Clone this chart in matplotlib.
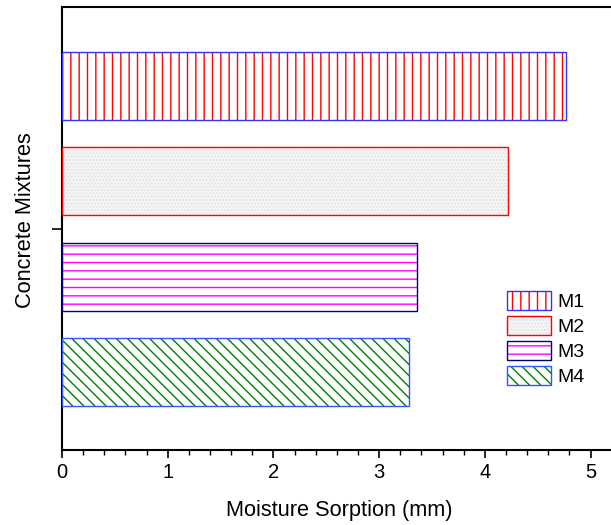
import numpy as np
import matplotlib
matplotlib.use("Agg")
import matplotlib.pyplot as plt
from matplotlib.ticker import MultipleLocator, FixedLocator

plt.rcParams['font.family'] = ['Liberation Sans', 'DejaVu Sans']
plt.rcParams['hatch.linewidth'] = 1.0

# data
mixtures = ['M1', 'M2', 'M3', 'M4']
sorption = [4.77, 4.215, 3.355, 3.28]
ypos = [4, 3, 2, 1]

# style per mixture: face, hatch, hatch colour, edge colour
faces = ['white', '#f6f6f6', 'white', 'white']
hatches = ['||', '.....', '--', '\\\\\\']
hatch_cols = ['#ff0000', '#e2e2e2', '#ff00ff', '#008000']
edges = ['#3333ff', '#ff0000', '#000080', '#3355ff']

fig = plt.figure(figsize=(6.11, 5.25), dpi=100)
ax = fig.add_axes([62/611, 75/525, 555/611, 443/525])

handles = []
for i in range(len(mixtures)):
    hb = ax.barh(ypos[i], sorption[i], height=0.713, color=faces[i],
                 hatch=hatches[i], edgecolor=hatch_cols[i], linewidth=0, zorder=2)
    eb = ax.barh(ypos[i], sorption[i], height=0.713, fill=False,
                 edgecolor=edges[i], linewidth=1.0, zorder=3)
    handles.append((hb[0], eb[0]))

ax.set_xlim(0, 5.25)
ax.set_ylim(0.182, 4.829)

ax.xaxis.set_major_locator(MultipleLocator(1))
ax.xaxis.set_minor_locator(MultipleLocator(0.2))
ax.yaxis.set_major_locator(FixedLocator([2.5]))
ax.set_yticklabels([])
ax.tick_params(axis='x', which='major', direction='out', length=6, width=1.2, labelsize=14.5)
ax.tick_params(axis='x', which='minor', direction='out', length=3.5, width=1.0)
ax.tick_params(axis='y', which='major', direction='out', length=7, width=1.2)

for s in ['left', 'bottom', 'top']:
    ax.spines[s].set_linewidth(1.5)
ax.spines['right'].set_visible(False)

ax.set_xlabel('Moisture Sorption (mm)', fontsize=15.7, labelpad=13)
ax.set_ylabel('Concrete Mixtures', fontsize=15.7)
ax.yaxis.set_label_coords(-0.047, 0.52)

leg = ax.legend(handles, mixtures, loc='upper left', bbox_to_anchor=(507/611, 1 - 291/525),
                bbox_transform=fig.transFigure, frameon=False, fontsize=14,
                handlelength=2.27, handleheight=1.12, labelspacing=0.25,
                handletextpad=0.3, borderpad=0, borderaxespad=0)

fig.savefig('out.png', dpi=100)
